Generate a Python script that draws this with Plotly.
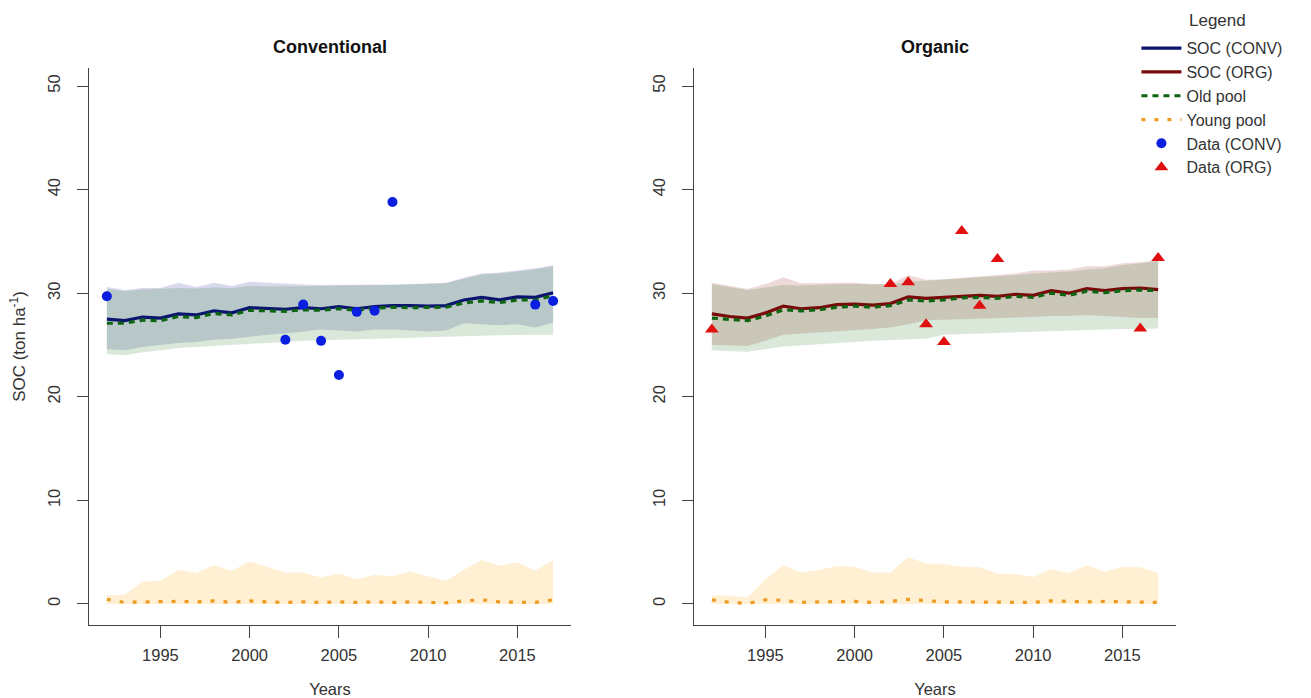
import plotly.graph_objects as go

years = list(range(1992, 2018))

# ---- Conventional ----
soc_conv = [27.5, 27.35, 27.7, 27.6, 28.0, 27.9, 28.3, 28.1, 28.6, 28.5, 28.45, 28.6, 28.5,
            28.7, 28.5, 28.7, 28.8, 28.8, 28.75, 28.8, 29.35, 29.6, 29.35, 29.65, 29.6, 30.05]
old_conv = [27.1, 27.1, 27.4, 27.35, 27.75, 27.65, 28.05, 27.9, 28.35, 28.3, 28.25, 28.4, 28.35,
            28.5, 28.35, 28.55, 28.65, 28.6, 28.6, 28.65, 29.05, 29.25, 29.1, 29.35, 29.35, 29.75]
young_conv = [0.45, 0.15, 0.2, 0.25, 0.25, 0.2, 0.3, 0.15, 0.3, 0.2, 0.15, 0.2, 0.15,
              0.2, 0.15, 0.2, 0.15, 0.2, 0.15, 0.1, 0.3, 0.4, 0.2, 0.2, 0.15, 0.4]
soc_conv_hi = [30.6, 30.3, 30.5, 30.5, 31.0, 30.6, 31.0, 30.7, 31.1, 31.0, 30.9, 30.85, 30.8,
               30.8, 30.8, 30.8, 30.85, 30.9, 30.95, 31.0, 31.5, 31.9, 32.0, 32.2, 32.4, 32.7]
soc_conv_lo = [24.6, 24.5, 24.8, 25.0, 25.2, 25.3, 25.5, 25.6, 25.8, 26.0, 26.1, 26.3, 26.5,
               26.4, 26.3, 26.5, 26.5, 26.4, 26.3, 26.4, 27.1, 27.0, 26.9, 27.0, 26.7, 27.15]
old_conv_hi = [30.4, 30.2, 30.35, 30.4, 30.5, 30.45, 30.55, 30.5, 30.7, 30.65, 30.65, 30.7, 30.7,
               30.75, 30.75, 30.75, 30.8, 30.85, 30.9, 30.95, 31.4, 31.8, 31.9, 32.1, 32.3, 32.6]
old_conv_lo = [24.1, 24.0, 24.3, 24.5, 24.7, 24.8, 24.9, 25.0, 25.1, 25.2, 25.3, 25.4, 25.5,
               25.5, 25.55, 25.6, 25.65, 25.7, 25.75, 25.8, 25.85, 25.9, 25.95, 26.0, 26.0, 26.0]
young_conv_hi = [0.85, 0.9, 2.15, 2.25, 3.3, 3.0, 3.75, 3.2, 4.1, 3.6, 3.05, 3.05, 2.55,
                 2.95, 2.4, 2.8, 2.7, 3.1, 2.7, 2.25, 3.3, 4.25, 3.7, 4.0, 3.2, 4.25]
young_conv_lo = [0.0] * 26

data_conv_years = [1992, 2002, 2003, 2004, 2005, 2006, 2007, 2008, 2016, 2017]
data_conv_vals = [29.7, 25.5, 28.9, 25.4, 22.1, 28.2, 28.3, 38.8, 28.9, 29.25]

# ---- Organic ----
soc_org = [28.0, 27.75, 27.6, 28.1, 28.75, 28.5, 28.6, 28.9, 28.95, 28.85, 29.0, 29.65, 29.5,
           29.6, 29.75, 29.8, 29.7, 29.9, 29.8, 30.25, 30.0, 30.45, 30.25, 30.45, 30.5, 30.35]
old_org = [27.6, 27.5, 27.35, 27.8, 28.4, 28.3, 28.4, 28.65, 28.75, 28.65, 28.8, 29.35, 29.25,
           29.35, 29.55, 29.6, 29.5, 29.7, 29.6, 30.0, 29.8, 30.2, 30.05, 30.25, 30.3, 30.25]
young_org = [0.4, 0.15, 0.05, 0.4, 0.35, 0.15, 0.2, 0.25, 0.25, 0.15, 0.25, 0.45, 0.3,
             0.2, 0.2, 0.2, 0.15, 0.2, 0.15, 0.3, 0.25, 0.2, 0.25, 0.2, 0.2, 0.15]
soc_org_hi = [31.0, 30.7, 30.4, 30.9, 31.55, 30.95, 31.0, 31.0, 31.0, 30.9, 30.9, 31.75, 31.3,
              31.35, 31.5, 31.6, 31.75, 31.9, 32.2, 32.2, 32.3, 32.6, 32.6, 32.9, 33.0, 33.2]
soc_org_lo = [25.0, 24.95, 24.9, 25.4, 26.0, 26.1, 26.2, 26.35, 26.45, 26.55, 26.7, 27.0, 27.4,
              27.4, 27.5, 27.55, 27.6, 27.65, 27.7, 27.8, 27.8, 27.9, 27.8, 27.7, 27.6, 27.6]
old_org_hi = [30.9, 30.6, 30.3, 30.55, 30.8, 30.75, 30.85, 30.9, 30.9, 30.85, 30.85, 31.1, 31.2,
              31.3, 31.4, 31.5, 31.6, 31.75, 31.9, 32.0, 32.1, 32.3, 32.4, 32.7, 32.9, 33.1]
old_org_lo = [24.5, 24.4, 24.35, 24.6, 24.85, 24.95, 25.1, 25.2, 25.3, 25.4, 25.5, 25.55, 25.6,
              26.0, 26.05, 26.1, 26.15, 26.2, 26.3, 26.35, 26.4, 26.45, 26.5, 26.55, 26.6, 26.6]
young_org_hi = [0.85, 0.8, 0.65, 2.4, 3.75, 3.05, 3.3, 3.65, 3.6, 3.05, 3.05, 4.5, 3.9,
                3.85, 3.6, 3.55, 2.95, 2.9, 2.6, 3.35, 3.0, 3.75, 3.1, 3.6, 3.55, 3.0]
young_org_lo = [0.0] * 26

data_org_years = [1992, 2002, 2003, 2004, 2005, 2006, 2007, 2008, 2016, 2017]
data_org_vals = [26.5, 30.9, 31.05, 27.0, 25.3, 36.0, 28.8, 33.3, 26.6, 33.4]

y_ticks = [0, 10, 20, 30, 40, 50]
x_ticks = [1995, 2000, 2005, 2010, 2015]

# colours
NAVY = "#0b1570"
DARKRED = "#7a0a0a"
GREEN = "#0d6410"
ORANGE = "#ee9a22"
BLUE = "#0a1fe0"
RED = "#e01010"

fig = go.Figure()


def band(hi, lo, color, xa, ya):
    fig.add_trace(go.Scatter(
        x=years + years[::-1], y=hi + lo[::-1], fill="toself", fillcolor=color,
        line=dict(width=0), mode="lines", showlegend=False, hoverinfo="skip",
        xaxis=xa, yaxis=ya))


# bands
band(soc_conv_hi, soc_conv_lo, "rgba(0,0,128,0.15)", "x", "y")
band(old_conv_hi, old_conv_lo, "rgba(0,100,0,0.15)", "x", "y")
band(young_conv_hi, young_conv_lo, "rgba(255,165,0,0.17)", "x", "y")
band(soc_org_hi, soc_org_lo, "rgba(139,0,0,0.15)", "x2", "y2")
band(old_org_hi, old_org_lo, "rgba(0,100,0,0.15)", "x2", "y2")
band(young_org_hi, young_org_lo, "rgba(255,165,0,0.17)", "x2", "y2")

OLD_DASH = "6px,5px"
YOUNG_DASH = "4px,9px"

# conventional lines
fig.add_trace(go.Scatter(x=years, y=soc_conv, mode="lines", name="SOC (CONV)",
                         line=dict(color=NAVY, width=3.2), legendrank=1,
                         xaxis="x", yaxis="y"))
fig.add_trace(go.Scatter(x=years, y=old_conv, mode="lines", name="Old pool",
                         line=dict(color=GREEN, width=3.2, dash=OLD_DASH), legendrank=3,
                         xaxis="x", yaxis="y"))
fig.add_trace(go.Scatter(x=years, y=young_conv, mode="lines", name="Young pool",
                         line=dict(color=ORANGE, width=3.2, dash=YOUNG_DASH), legendrank=4,
                         xaxis="x", yaxis="y"))
# organic lines
fig.add_trace(go.Scatter(x=years, y=soc_org, mode="lines", name="SOC (ORG)",
                         line=dict(color=DARKRED, width=3.2), legendrank=2,
                         xaxis="x2", yaxis="y2"))
fig.add_trace(go.Scatter(x=years, y=old_org, mode="lines", name="Old pool", showlegend=False,
                         line=dict(color=GREEN, width=3.2, dash=OLD_DASH),
                         xaxis="x2", yaxis="y2"))
fig.add_trace(go.Scatter(x=years, y=young_org, mode="lines", name="Young pool", showlegend=False,
                         line=dict(color=ORANGE, width=3.2, dash=YOUNG_DASH),
                         xaxis="x2", yaxis="y2"))
# data
fig.add_trace(go.Scatter(x=data_conv_years, y=data_conv_vals, mode="markers", name="Data (CONV)",
                         marker=dict(color=BLUE, size=10, symbol="circle"), legendrank=5,
                         xaxis="x", yaxis="y"))
fig.add_trace(go.Scatter(x=data_org_years, y=data_org_vals, mode="markers", name="Data (ORG)",
                         marker=dict(color=RED, size=12, symbol="triangle-up"), legendrank=6,
                         xaxis="x2", yaxis="y2"))

FONT = "Liberation Sans, Arial, sans-serif"
TXT = "#333333"

xcommon = dict(range=[1991, 2018], tickvals=x_ticks, ticks="outside", ticklen=12,
               tickwidth=1.3, tickcolor="#444", showline=True, linecolor="#444", linewidth=1.3,
               showgrid=False, zeroline=False, tickfont=dict(size=16.5, color=TXT),
               automargin=False, ticklabelstandoff=3,
               title=dict(text="Years", font=dict(size=16.5, color=TXT), standoff=20))
ycommon = dict(range=[-2.03, 51.74], tickvals=y_ticks, ticks="outside", ticklen=11,
               tickwidth=1.3, tickcolor="#444", showline=True, linecolor="#444", linewidth=1.3,
               showgrid=False, zeroline=False, tickangle=-90, automargin=False,
               tickfont=dict(size=16.5, color=TXT), ticklabelstandoff=10)

fig.update_layout(
    width=1311, height=698,
    margin=dict(l=89, r=135, t=68, b=73, autoexpand=False),
    paper_bgcolor="white", plot_bgcolor="white",
    font=dict(family=FONT, color=TXT),
    xaxis=dict(domain=[0, 0.4434], anchor="y", **xcommon),
    xaxis2=dict(domain=[0.5566, 1], anchor="y2", **xcommon),
    yaxis=dict(anchor="x", title=dict(text="SOC (ton ha<sup>-1</sup>)",
                                      font=dict(size=17, color=TXT), standoff=15), **ycommon),
    yaxis2=dict(anchor="x2", **ycommon),
    showlegend=True,
    legend=dict(x=0.9636, xanchor="left", y=1.066, yanchor="top", bgcolor="rgba(0,0,0,0)",
                font=dict(size=16, color=TXT), itemwidth=40, tracegroupgap=0,
                traceorder="normal"),
    annotations=[
        dict(text="<b>Conventional</b>", x=0.2217, y=1.0377, xref="paper", yref="paper",
             showarrow=False, xanchor="center", yanchor="middle",
             font=dict(size=18, color="#111")),
        dict(text="<b>Organic</b>", x=0.7783, y=1.0377, xref="paper", yref="paper",
             showarrow=False, xanchor="center", yanchor="middle",
             font=dict(size=18, color="#111")),
        dict(text="Legend", x=1.0101, y=1.086, xref="paper", yref="paper",
             showarrow=False, xanchor="left", yanchor="middle",
             font=dict(size=17, color=TXT)),
    ],
)

fig.write_html("out.html", config={"displayModeBar": False},
               post_script="document.body.style.margin='0px';")
